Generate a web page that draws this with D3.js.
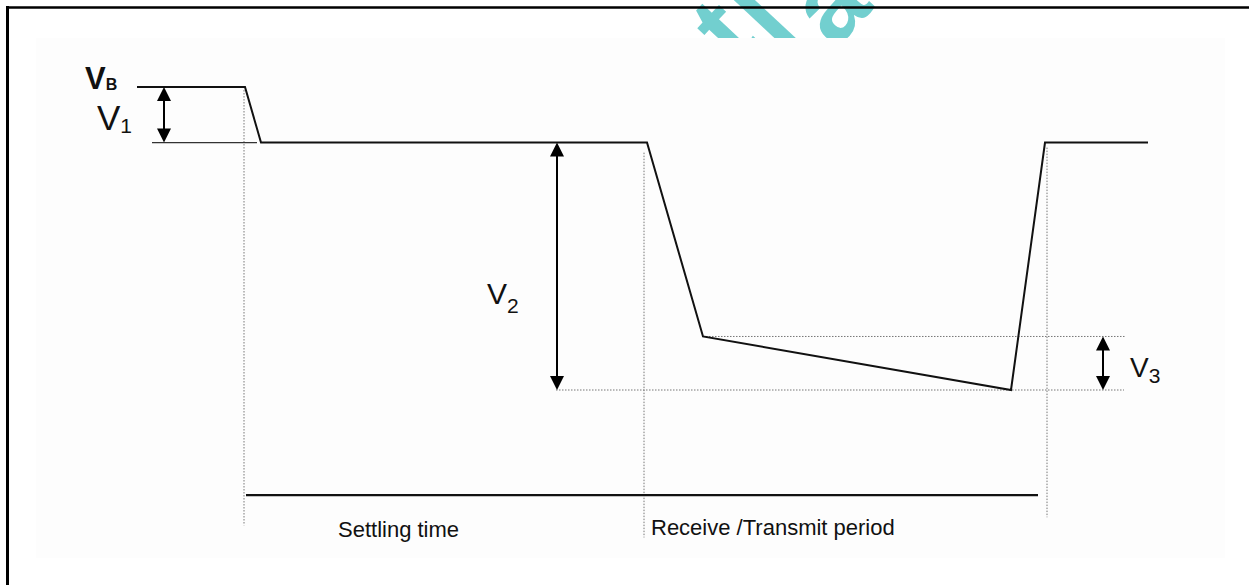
<!DOCTYPE html>
<html>
<head>
<meta charset="utf-8">
<script src="https://cdn.jsdelivr.net/npm/d3@7"></script>
<style>
  html, body { margin: 0; padding: 0; background: #fff; }
  svg { display: block; }
  text { font-family: "Liberation Sans", Arial, Helvetica, sans-serif; fill: #111; }
</style>
</head>
<body>
<svg id="chart" width="1249" height="585"></svg>
<script>
// ---- data (arbitrary time units / volts) ----
const waveTime    = [0, 10.8, 12.4, 51.0, 56.6, 87.4, 90.8, 101.1];
const waveVoltage = [3.0, 3.0, 2.45, 2.45, 0.53, 0.0, 2.45, 2.45];

const arrowLabels = ["V1", "V2", "V3"];
const arrowTime   = [2.7, 42.0, 96.6];
const arrowFrom   = [3.0, 2.45, 0.53];
const arrowTo     = [2.45, 0.0, 0.0];

const markerTime  = [10.7, 50.7, 91.0];
const markerTop   = [2.97, 2.35, 2.40];
const markerBot   = [-1.34, -1.46, -1.26];

const refLevels   = [0.53, 0.0];
const refStart    = [56.6, 41.9];
const refEnd      = [98.9, 98.7];

const periodLevel = -1.04;
const periodStart = 10.9;
const periodEnd   = 90.1;
const periodLabels = ["Settling time", "Receive /Transmit period"];

const watermarkGlyphs = ["t", "l", "a"];

const svg = d3.select("#chart");

const x = d3.scaleLinear().domain([0, 101.1]).range([137, 1148]);
const y = d3.scaleLinear().domain([0, 3.0]).range([390, 87]);

// watermark (clipped at the top)
const defs = svg.append("defs");
defs.append("clipPath").attr("id", "wm").append("rect")
  .attr("x", 0).attr("y", 0).attr("width", 1249).attr("height", 38);
const wm = svg.append("g").attr("clip-path", "url(#wm)");
const wmPos = [[737, 67], [782, 55], [835, 50]];
watermarkGlyphs.forEach((g, i) => {
  wm.append("text")
    .attr("transform", `translate(${wmPos[i][0]},${wmPos[i][1]}) rotate(-47)`)
    .style("font-size", "105px").style("font-weight", "bold")
    .style("fill", "#72cfcf")
    .text(g);
});

// faint page background
svg.append("rect").attr("x", 36).attr("y", 38).attr("width", 1189).attr("height", 520)
  .attr("fill", "#fdfdfd");

// frame
svg.append("line").attr("x1", 7).attr("x2", 1249).attr("y1", 7.5).attr("y2", 7.5)
  .attr("stroke", "#000").attr("stroke-width", 2.5);
svg.append("line").attr("x1", 7.5).attr("x2", 7.5).attr("y1", 6).attr("y2", 585)
  .attr("stroke", "#000").attr("stroke-width", 3);

// dotted guides
const dotted = svg.append("g").attr("stroke", "#777").attr("stroke-width", 1)
  .attr("stroke-dasharray", "1.5,1.5").attr("fill", "none");
markerTime.forEach((t, i) => {
  dotted.append("line").attr("x1", x(t)).attr("x2", x(t))
    .attr("y1", y(markerTop[i])).attr("y2", y(markerBot[i]));
});
refLevels.forEach((v, i) => {
  dotted.append("line").attr("x1", x(refStart[i])).attr("x2", x(refEnd[i]))
    .attr("y1", y(v)).attr("y2", y(v));
});

// V1 reference line (thin)
svg.append("line").attr("x1", x(1.5)).attr("x2", x(12.0))
  .attr("y1", y(2.45)).attr("y2", y(2.45))
  .attr("stroke", "#333").attr("stroke-width", 1.3);

// waveform
const pts = waveTime.map((t, i) => [t, waveVoltage[i]]);
svg.append("path").datum(pts)
  .attr("d", d3.line().x(d => x(d[0])).y(d => y(d[1])))
  .attr("fill", "none").attr("stroke", "#111").attr("stroke-width", 2)
  .attr("stroke-linejoin", "miter");

// period bar
svg.append("line").attr("x1", x(periodStart)).attr("x2", x(periodEnd))
  .attr("y1", y(periodLevel)).attr("y2", y(periodLevel))
  .attr("stroke", "#111").attr("stroke-width", 2.2);

// double arrows
const headW = 7, headH = 14;
arrowTime.forEach((t, i) => {
  const ax = x(t), y1 = y(arrowFrom[i]), y2 = y(arrowTo[i]);
  svg.append("line").attr("x1", ax).attr("x2", ax)
    .attr("y1", y1 + headH - 2).attr("y2", y2 - headH + 2)
    .attr("stroke", "#000").attr("stroke-width", 2);
  svg.append("path")
    .attr("d", `M${ax},${y1} L${ax - headW},${y1 + headH} L${ax + headW},${y1 + headH} Z`)
    .attr("fill", "#000");
  svg.append("path")
    .attr("d", `M${ax},${y2} L${ax - headW},${y2 - headH} L${ax + headW},${y2 - headH} Z`)
    .attr("fill", "#000");
});

// labels
function vLabel(px, py, big, subSize, subDy, txt) {
  const t = svg.append("text").attr("x", px).attr("y", py).style("font-size", big + "px");
  t.append("tspan").text("V");
  t.append("tspan").attr("dy", subDy).style("font-size", subSize + "px").text(txt);
}
// VB (bold)
const vb = svg.append("text").attr("x", 85).attr("y", 89)
  .style("font-size", "31px").style("font-weight", "bold");
vb.append("tspan").text("V");
vb.append("tspan").attr("dy", 1).style("font-size", "16px")
  .style("font-weight", "900").text("B");

vLabel(97, 130, 35, 21, 3, arrowLabels[0].slice(1));
vLabel(487, 304, 30, 21, 9, arrowLabels[1].slice(1));
vLabel(1130, 377, 28, 21, 6, arrowLabels[2].slice(1));

svg.append("text").attr("x", 338).attr("y", 537).style("font-size", "22px")
  .text(periodLabels[0]);
svg.append("text").attr("x", 651).attr("y", 535).style("font-size", "22px")
  .text(periodLabels[1]);
</script>
</body>
</html>
